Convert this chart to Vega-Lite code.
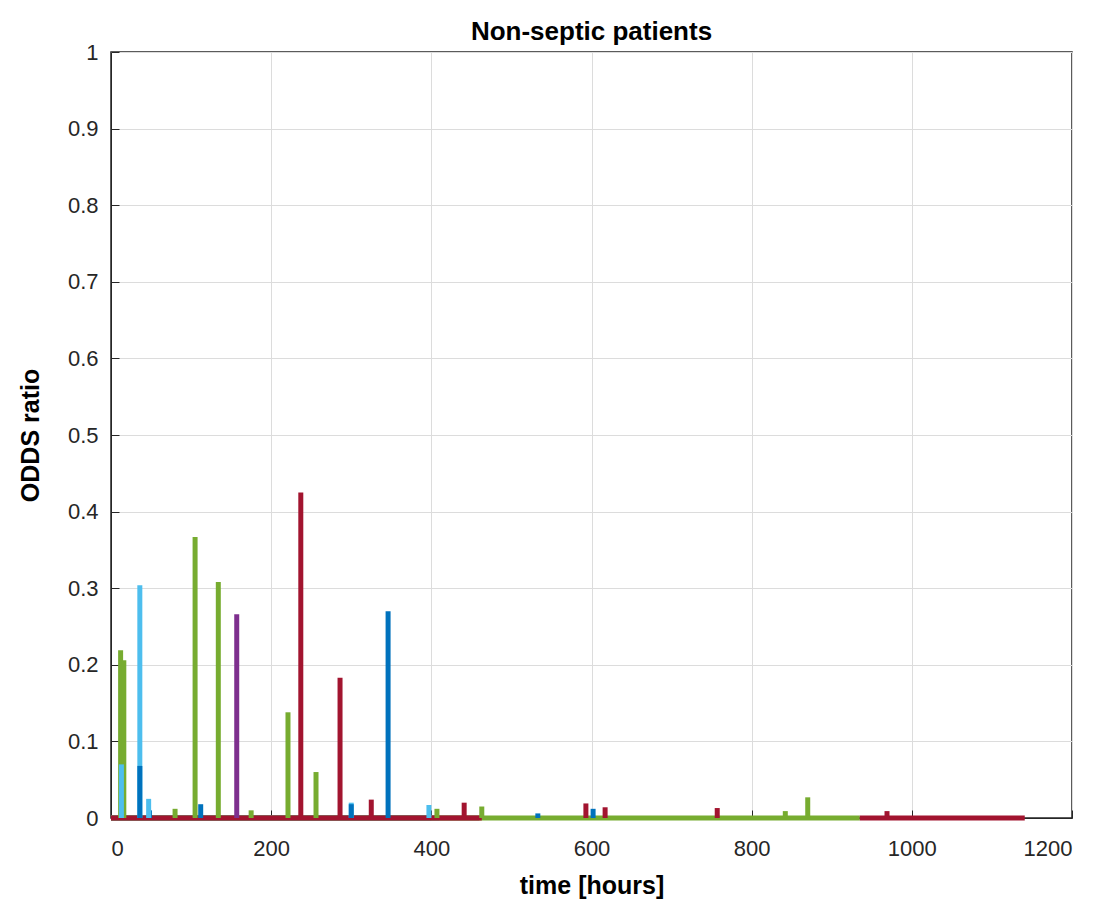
{
  "$schema": "https://vega.github.io/schema/vega-lite/v6.json",
  "width": 961,
  "height": 766,
  "autosize": {"type": "none"},
  "padding": {"left": 111, "top": 52, "right": 33, "bottom": 90},
  "background": "white",
  "title": {"text": "Non-septic patients", "font": "Liberation Sans", "fontSize": 26, "fontWeight": "bold", "color": "#000000", "offset": -4},
  "config": {
    "view": {"stroke": "#262626", "strokeWidth": 1.5},
    "axis": {"labelFont": "Liberation Sans", "labelFontSize": 22, "labelColor": "#262626", "titleFont": "Liberation Sans", "titleFontSize": 25, "titleFontWeight": "bold", "titleColor": "#000000", "domainColor": "#262626", "tickColor": "#262626", "tickSize": -8, "gridColor": "#dcdcdc", "gridWidth": 1, "grid": true}
  },
  "datasets": {
    "base": [
      {"s": "blue", "t0": 0, "t1": 400},
      {"s": "lightblue", "t0": 0, "t1": 410},
      {"s": "purple", "t0": 0, "t1": 460},
      {"s": "green", "t0": 0, "t1": 935},
      {"s": "crimson", "t0": 0, "t1": 463},
      {"s": "crimson", "t0": 935, "t1": 1141}
    ],
    "spikes": [
      {"s": "green", "t": 80, "v": 0.012},
      {"s": "green", "t": 175, "v": 0.01},
      {"s": "green", "t": 407, "v": 0.012},
      {"s": "green", "t": 463, "v": 0.015},
      {"s": "green", "t": 842, "v": 0.009},
      {"s": "green", "t": 870, "v": 0.027},
      {"s": "blue", "t": 48, "v": 0.01},
      {"s": "blue", "t": 112, "v": 0.018},
      {"s": "blue", "t": 533, "v": 0.006},
      {"s": "blue", "t": 602, "v": 0.012},
      {"s": "lightblue", "t": 47, "v": 0.025},
      {"s": "lightblue", "t": 300, "v": 0.02},
      {"s": "lightblue", "t": 397, "v": 0.017},
      {"s": "green", "t": 12, "v": 0.219},
      {"s": "green", "t": 16, "v": 0.206},
      {"s": "lightblue", "t": 13, "v": 0.07},
      {"s": "lightblue", "t": 36, "v": 0.304},
      {"s": "blue", "t": 36, "v": 0.068},
      {"s": "green", "t": 105, "v": 0.367},
      {"s": "green", "t": 134, "v": 0.308},
      {"s": "purple", "t": 157, "v": 0.266},
      {"s": "green", "t": 221, "v": 0.138},
      {"s": "crimson", "t": 237, "v": 0.425},
      {"s": "green", "t": 256, "v": 0.06},
      {"s": "crimson", "t": 286, "v": 0.183},
      {"s": "blue", "t": 300, "v": 0.018},
      {"s": "crimson", "t": 325, "v": 0.024},
      {"s": "blue", "t": 346, "v": 0.27},
      {"s": "crimson", "t": 441, "v": 0.02},
      {"s": "crimson", "t": 593, "v": 0.019},
      {"s": "crimson", "t": 617, "v": 0.014},
      {"s": "crimson", "t": 757, "v": 0.013},
      {"s": "crimson", "t": 969, "v": 0.009}
    ]
  },
  "layer": [
    {
      "data": {"name": "base"},
      "mark": {"type": "rule", "strokeWidth": 5},
      "encoding": {
        "x": {"field": "t0", "type": "quantitative", "scale": {"domain": [0, 1200], "nice": false}, "axis": {"values": [0, 200, 400, 600, 800, 1000, 1200], "format": "d", "title": "time [hours]", "labelPadding": 28, "titlePadding": 14}},
        "x2": {"field": "t1"},
        "y": {"datum": 0, "type": "quantitative", "scale": {"domain": [0, 1], "nice": false}, "axis": {"values": [0, 0.1, 0.2, 0.3, 0.4, 0.5, 0.6, 0.7, 0.8, 0.9, 1], "format": ".1~f", "title": "ODDS ratio", "grid": true, "labelPadding": 21, "titlePadding": 24}},
        "color": {"field": "s", "type": "nominal", "legend": null, "scale": {"domain": ["blue", "lightblue", "purple", "green", "crimson"], "range": ["#0072BD", "#4DBEEE", "#7E2F8E", "#77AC30", "#A2142F"]}}
      }
    },
    {
      "data": {"name": "spikes"},
      "mark": {"type": "rule", "strokeWidth": 5},
      "encoding": {
        "x": {"field": "t", "type": "quantitative"},
        "y": {"field": "v", "type": "quantitative"},
        "y2": {"datum": 0},
        "color": {"field": "s", "type": "nominal", "legend": null}
      }
    }
  ]
}
